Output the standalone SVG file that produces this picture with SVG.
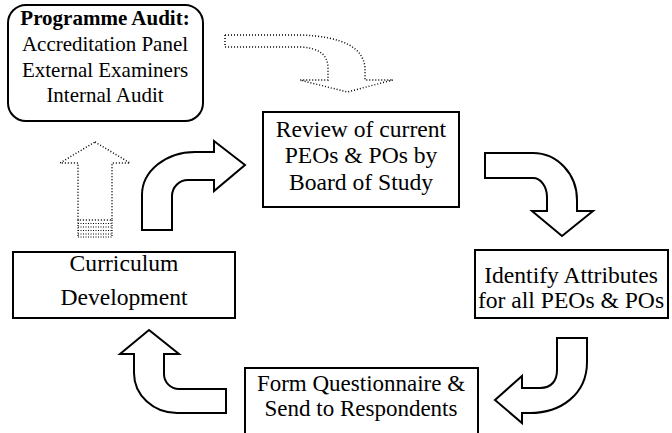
<svg xmlns="http://www.w3.org/2000/svg" width="672" height="433" viewBox="0 0 672 433">
<style>
  .box { fill: #fff; stroke: #000; stroke-width: 2; }
  text { font-family: 'Liberation Serif', 'Times New Roman', serif; fill: #000; text-anchor: middle; }
  .arrow { fill: #fff; stroke: #000; stroke-width: 2; stroke-linejoin: miter; }
  .dot { fill: #fff; stroke: #000; stroke-width: 1.5; stroke-dasharray: 1 2; }
</style>
<rect width="672" height="433" fill="#fff"/>
<g id="audit" font-family="Liberation Serif" font-size="21">
  <rect class="box" x="8" y="5" width="195" height="116" rx="18"/>
  <text x="105" y="25" font-weight="bold">Programme Audit:</text>
  <text x="105" y="51">Accreditation Panel</text>
  <text x="105" y="77">External Examiners</text>
  <text x="105" y="102">Internal Audit</text>
</g>
<g id="review" font-family="Liberation Serif" font-size="23.6">
  <rect class="box" x="263" y="112" width="196" height="95"/>
  <text x="361" y="137">Review of current</text>
  <text x="361" y="163">PEOs &amp; POs by</text>
  <text x="361" y="190">Board of Study</text>
</g>
<g id="identify" font-family="Liberation Serif" font-size="23.6">
  <rect class="box" x="475" y="250" width="193" height="68"/>
  <text x="571" y="283">Identify Attributes</text>
  <text x="571" y="308">for all PEOs &amp; POs</text>
</g>
<g id="form" font-family="Liberation Serif" font-size="23">
  <rect class="box" x="245" y="368" width="233" height="80"/>
  <text x="361" y="391">Form Questionnaire &amp;</text>
  <text x="361" y="416">Send to Respondents</text>
</g>
<g id="curriculum" font-family="Liberation Serif" font-size="23.6">
  <rect class="box" x="13" y="252" width="222" height="66"/>
  <text x="124" y="271">Curriculum</text>
  <text x="124" y="305">Development</text>
</g>
<g id="connectors">
  <path class="dot" d="M225,35 L300,35 Q365,37 365,70 L365,80 L393,80 L347,92 L300,80 L328,80 L328,68 Q328,48 300,47 L225,47 Z"/>
  <path class="dot" d="M95,142 L130,163 L112,163 L112,220 L78,220 L78,163 L60,163 Z"/>
  <g stroke="#000" stroke-width="1.2" stroke-dasharray="1 1.5" fill="none">
    <line x1="78" y1="223.5" x2="112" y2="223.5"/>
    <line x1="78" y1="227" x2="112" y2="227"/>
    <line x1="78" y1="230.5" x2="112" y2="230.5"/>
    <line x1="78" y1="234" x2="112" y2="234"/>
    <line x1="78" y1="237" x2="112" y2="237"/>
    <line x1="78" y1="220" x2="78" y2="237"/>
    <line x1="112" y1="220" x2="112" y2="237"/>
  </g>
  <path class="arrow" d="M142,230 L142,195 A53,43 0 0 1 195,152 L214,152 L214,141 L245,165 L214,191 L214,180 L188,180 A16,16 0 0 0 172,196 L172,230 Z"/>
  <path class="arrow" d="M485,153 L533,153 A44,47 0 0 1 577,200 L577,211 L593,211 L562,236 L532,211 L547,211 L547,197 A14,19 0 0 0 533,178 L485,178 Z"/>
  <path class="arrow" d="M557,338 L587,338 L587,362 C587,395 560,413 530,413 L522,413 L522,423 L495,400 L522,376 L522,388 L540,388 C552,388 557,380 557,370 Z"/>
  <path class="arrow" d="M149,330 L179,354 L164,354 L164,374 A15,15 0 0 0 179,389 L226,389 L226,413 L177,413 A43,40 0 0 1 134,373 L134,354 L120,354 Z"/>
</g>
</svg>
